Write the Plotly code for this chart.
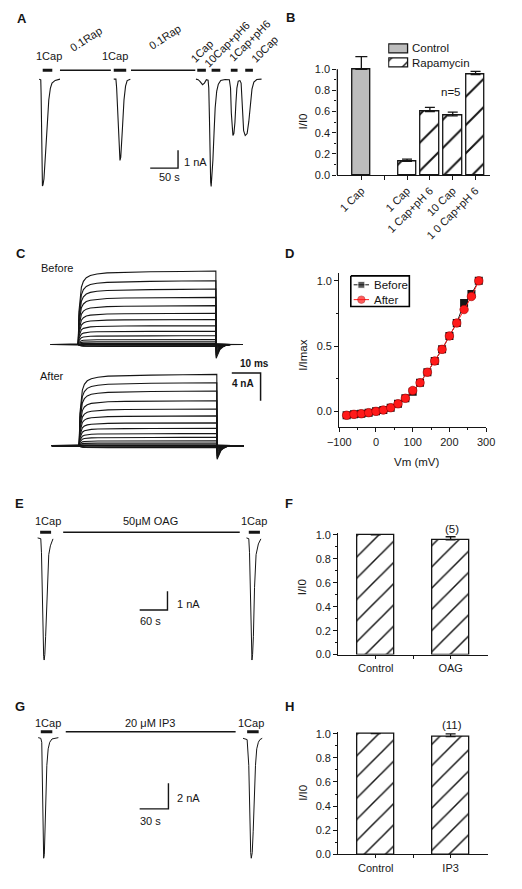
import plotly.graph_objects as go

W, H = 522, 889
FONT = "Liberation Sans, Arial, Helvetica, sans-serif"
INK = "#151515"

# ================= DATA =================
# ---- Panel A: capsaicin currents (time s, current nA) ----
A_seg1_t = [0.5, 3.4, 4.0, 4.7, 5.2, 5.7, 6.4, 7.4, 9.1, 12.1, 15.0, 17.8, 20.7, 23.6, 29.3, 37.9]
A_seg1_i = [0.0, -0.04, -0.78, -2.44, -4.11, -5.50, -6.00, -5.94, -5.61, -4.11, -2.28, -1.17, -0.50, -0.22, -0.07, 0.0]
A_seg2_t = [134.5, 138.4, 139.7, 141.4, 143.1, 144.3, 145.7, 147.1, 148.3, 150.0, 152.9, 155.7, 158.6, 164.3]
A_seg2_i = [0.0, 0.0, -0.50, -1.61, -3.28, -4.22, -4.57, -4.39, -3.94, -2.83, -1.17, -0.39, -0.08, 0.0]
A_seg3_t = [282.2, 286.2, 289.7, 294.0, 297.4, 300.9, 304.0, 305.2, 306.4, 307.4, 308.6, 309.5, 310.9,
            312.6, 314.7, 316.7, 319.5, 322.4, 326.7, 334.5, 342.2, 344.3, 345.7, 347.1, 348.6, 350.3,
            352.2, 354.0, 355.7, 358.1, 361.2, 363.3, 364.7, 366.0, 367.8, 370.7, 374.1, 377.1, 379.8,
            382.8, 386.2, 391.4, 400.0]
A_seg3_i = [0.0, -0.03, -0.14, -0.31, -0.22, -0.03, -0.06, -0.50, -2.17, -4.39, -5.78, -6.03, -5.50,
            -4.56, -3.00, -1.61, -0.67, -0.28, -0.07, -0.02, -0.03, -0.50, -1.89, -2.89, -3.17, -3.06,
            -2.44, -1.33, -0.50, -0.11, -0.08, -0.22, -1.06, -2.17, -2.89, -3.17, -3.06, -2.39, -1.33,
            -0.56, -0.17, -0.02, 0.0]
A_short_bars = [(6.9, 24.1), (134.5, 156.9), (284.5, 300.0), (310.3, 325.9), (344.8, 356.9), (370.7, 384.5)]
A_long_bars = [(37.9, 129.3), (165.5, 281.0)]
A_bar_level = 0.5
A_labels = ["1Cap", "0.1Rap", "1Cap", "0.1Rap", "1Cap", "10Cap+pH6", "1Cap+pH6", "10Cap"]
A_label_t = [19.0, 84.5, 136.2, 225.9, 293.1, 337.9, 377.6, 405.2]
A_label_i = [1.28, 2.28, 1.28, 2.39, 1.56, 2.00, 2.17, 1.72]
A_label_angle = [0, -33, 0, -33, -45, -45, -45, -45]

# ---- Panel B: I/I0 ----
B_tick_labels = ["1 Cap", "", "1 Cap", "1 Cap+pH 6", "10 Cap", "1 0 Cap+pH 6"]
B_ctrl_pos = [0]
B_ctrl_val = [1.0]
B_ctrl_err = [0.12]
B_rap_pos = [2, 3, 4, 5]
B_rap_val = [0.13, 0.60, 0.56, 0.95]
B_rap_err = [0.02, 0.04, 0.035, 0.03]
B_series = ["Control", "Rapamycin"]

# ---- Panel C: voltage-step current families (time ms, current nA) ----
C_shape_t = [-9.5, 0.0, 0.25, 0.6, 1.1, 1.8, 2.8, 4.2, 6.5, 10, 16, 25, 36, 47.8,
             47.9, 48.5, 49.2, 50.2, 51.4, 53.0, 57.2]
C_shape_f = [0, 0, 0.45, 0.64, 0.78, 0.86, 0.91, 0.94, 0.96, 0.975, 0.985, 0.99, 0.995, 1.0,
             -0.19, -0.13, -0.07, -0.035, -0.012, 0, 0]
C_before_amp = [10.6, 9.2, 8.0, 6.8, 5.6, 4.5, 3.6, 2.7, 1.9, 1.25, 0.7, 0.38, 0.14, 0.0, -0.1, -0.2, -0.25, -0.3]
C_after_amp = [10.3, 9.1, 7.9, 6.5, 5.3, 4.3, 3.3, 2.5, 1.75, 1.2, 0.7, 0.38, 0.14, 0.0, -0.1, -0.2, -0.25, -0.3]

# ---- Panel D: normalized I-V ----
D_vm = [-80, -60, -40, -20, 0, 20, 40, 60, 80, 100, 120, 140, 160, 180, 200, 220, 240, 260, 280]
D_before = [-0.03, -0.023, -0.018, -0.01, 0.0, 0.01, 0.028, 0.058, 0.10, 0.15, 0.22, 0.30, 0.386, 0.475,
            0.578, 0.677, 0.83, 0.90, 1.0]
D_after = [-0.03, -0.023, -0.018, -0.01, 0.0, 0.01, 0.028, 0.058, 0.10, 0.16, 0.22, 0.30, 0.386, 0.475,
           0.578, 0.677, 0.78, 0.88, 1.0]
D_series = ["Before", "After"]

# ---- Panel E: OAG (time s, current nA) ----
E_seg1_t = [-0.6, 6.2, 7.7, 8.9, 11.0, 12.4, 13.5, 14.9, 16.6, 20.1, 23.4, 26.9, 32.5]
E_seg1_i = [0.0, -0.04, -0.79, -2.63, -5.26, -6.32, -6.50, -6.21, -5.26, -2.63, -0.89, -0.42, -0.05]
E_seg2_t = [449.9, 454.9, 456.5, 458.2, 459.6, 460.9, 461.7, 463.1, 464.8, 467.3, 470.6, 475.6, 481.0]
E_seg2_i = [0.0, -0.04, -0.79, -2.63, -5.26, -6.32, -6.50, -6.21, -5.26, -2.63, -0.89, -0.32, -0.05]
E_short_bars = [(4.8, 28.4), (454.9, 478.9)]
E_long_bars = [(54.5, 435.4)]
E_bar_level = 0.3
E_labels = ["1Cap", "50\u03bcM OAG", "1Cap"]
E_label_t = [20.7, 241.9, 465.2]

# ---- Panel F ----
F_cats = ["Control", "OAG"]
F_vals = [1.0, 0.96]
F_err = [0.0, 0.025]
F_n = "(5)"

# ---- Panel G: IP3 (time s, current nA) ----
G_seg1_t = [0.0, 2.7, 3.7, 4.0, 4.4, 4.7, 5.0, 5.7, 6.4, 7.0, 8.0, 9.0, 10.4, 12.0, 14.4, 21.0]
G_seg1_i = [0.0, -0.05, -0.36, -2.15, -4.72, -7.28, -8.95, -9.38, -9.08, -7.28, -4.72, -2.15, -0.87, -0.36, -0.10, 0.0]
G_seg2_t = [213.4, 217.7, 219.4, 220.0, 220.7, 221.4, 222.0, 223.0, 224.0, 225.0, 226.4, 227.7, 229.4, 231.0, 233.4]
G_seg2_i = [-0.05, -0.15, -2.15, -4.72, -7.28, -8.95, -9.38, -8.95, -7.28, -4.72, -2.15, -0.87, -0.36, -0.15, -0.05]
G_short_bars = [(2.7, 14.7), (217.7, 229.7)]
G_long_bars = [(28.7, 205.7)]
G_bar_level = 0.46
G_labels = ["1Cap", "20 \u03bcM IP3", "1Cap"]
G_label_t = [9.7, 116.9, 221.5]

# ---- Panel H ----
H_cats = ["Control", "IP3"]
H_vals = [1.0, 0.975]
H_err = [0.0, 0.023]
H_n = "(11)"


# ================= HELPERS =================
def dom_x(a, b):
    return [a / W, b / W]


def dom_y(top, bot):
    return [1 - bot / H, 1 - top / H]


def join(segs):
    xs, ys = [], []
    for t, i in segs:
        xs += list(t) + [None]
        ys += list(i) + [None]
    return xs, ys


def bars_xy(bars, level):
    xs, ys = [], []
    for a, b in bars:
        xs += [a, b, None]
        ys += [level, level, None]
    return xs, ys


def paper_ann(text, x, y, size=11, bold=False, angle=0, xanchor="center"):
    return dict(text=f"<b>{text}</b>" if bold else text, x=x / W, y=1 - y / H, xref="paper", yref="paper",
                showarrow=False, textangle=angle, xanchor=xanchor, yanchor="middle",
                font=dict(family=FONT, size=size, color=INK))


def data_ann(text, x, y, ax, size=10.5, bold=False, angle=0):
    return dict(text=f"<b>{text}</b>" if bold else text, x=x, y=y, xref="x" + ax, yref="y" + ax,
                showarrow=False, textangle=angle, xanchor="center", yanchor="middle",
                font=dict(family=FONT, size=size, color=INK))


def cal_range(p0, p1, origin, per_px, invert=False):
    if invert:
        return [(origin - p1) * per_px, (origin - p0) * per_px]
    return [(p0 - origin) * per_px, (p1 - origin) * per_px]


fig = go.Figure()
annotations = []
shapes = []
layout = dict(width=W, height=H, margin=dict(l=0, r=0, t=0, b=0), paper_bgcolor="white",
              plot_bgcolor="rgba(0,0,0,0)", showlegend=False,
              font=dict(family=FONT, size=11, color=INK))

hidden = dict(visible=False, showgrid=False, zeroline=False, fixedrange=True)


def trace_panel(ax, px_x, py, x_origin, x_per_px, y_origin, y_per_px):
    xk = "xaxis" if ax == "" else "xaxis" + ax
    yk = "yaxis" if ax == "" else "yaxis" + ax
    layout[xk] = dict(hidden, domain=dom_x(*px_x), range=cal_range(px_x[0], px_x[1], x_origin, x_per_px),
                      anchor="y" + ax)
    layout[yk] = dict(hidden, domain=dom_y(*py), range=cal_range(py[0], py[1], y_origin, y_per_px, True),
                      anchor="x" + ax)


def line(x, y, ax, width=1.1, color=INK):
    fig.add_trace(go.Scatter(x=x, y=y, mode="lines", line=dict(color=color, width=width),
                             xaxis="x" + ax, yaxis="y" + ax, showlegend=False, hoverinfo="skip"))


LBL = 11

# ================= PANEL A =================
trace_panel("", (0, 264), (0, 205), 28, 1 / 0.58, 76, 1 / 18)
x, y = join([(A_seg1_t, A_seg1_i), (A_seg2_t, A_seg2_i), (A_seg3_t, A_seg3_i)])
line(x, y, "", 1.1)
x, y = bars_xy(A_short_bars, A_bar_level)
line(x, y, "", 3.2)
x, y = bars_xy(A_long_bars, A_bar_level)
line(x, y, "", 1.6)
line([200, 250, 250], [-5.0, -5.0, -4.0], "", 1.4)
for txt, t, i, ang in zip(A_labels, A_label_t, A_label_i, A_label_angle):
    annotations.append(data_ann(txt, t, i, "", LBL, angle=ang))
annotations.append(data_ann("1 nA", 281.9, -4.67, "", LBL))
annotations.append(data_ann("50 s", 235.3, -5.5, "", LBL))

# ================= PANEL C =================
trace_panel("3", (0, 264), (255, 362), 69, 1 / 3, 344.3, 1 / 7)
trace_panel("4", (0, 264), (358, 470), 70, 1 / 3, 446.7, 1 / 7)
for ax, amps in (("3", C_before_amp), ("4", C_after_amp)):
    xs, ys = [], []
    for a in amps:
        xs += C_shape_t + [None]
        ys += [a * f for f in C_shape_f] + [None]
    line(xs, ys, ax, 1.1)
line([53, 63, 63], [10.5, 10.5, 6.5], "4", 1.5)
annotations.append(paper_ann("10 ms", 253, 364, 10, bold=True))
annotations.append(paper_ann("4 nA", 241, 384, 10, bold=True))
annotations.append(paper_ann("Before", 47, 267, LBL))
annotations.append(paper_ann("After", 42, 376, LBL))

# ================= PANEL E =================
trace_panel("6", (0, 264), (510, 672), 27, 1 / 0.483, 540, 1 / 19)
x, y = join([(E_seg1_t, E_seg1_i), (E_seg2_t, E_seg2_i)])
line(x, y, "6", 1.0)
x, y = bars_xy(E_short_bars, E_bar_level)
line(x, y, "6", 3.0)
x, y = bars_xy(E_long_bars, E_bar_level)
line(x, y, "6", 1.5)
line([219.5, 279.5, 279.5], [-3.84, -3.84, -2.84], "6", 1.4)
for txt, t in zip(E_labels, E_label_t):
    annotations.append(data_ann(txt, t, 0.89, "6", LBL))
annotations.append(data_ann("1 nA", 324.6, -3.51, "6", LBL))
annotations.append(data_ann("60 s", 242.2, -4.44, "6", LBL))

# ================= PANEL G =================
trace_panel("8", (0, 264), (712, 878), 27.3, 1.0, 742, 1 / 13)
x, y = join([(G_seg1_t, G_seg1_i), (G_seg2_t, G_seg2_i)])
line(x, y, "8", 1.0)
x, y = bars_xy(G_short_bars, G_bar_level)
line(x, y, "8", 3.0)
x, y = bars_xy(G_long_bars, G_bar_level)
line(x, y, "8", 1.5)
line([105.7, 135.7, 135.7], [-5.54, -5.54, -3.54], "8", 1.4)
for txt, t in zip(G_labels, G_label_t):
    annotations.append(data_ann(txt, t, 1.15, "8", LBL))
annotations.append(data_ann("2 nA", 156.7, -4.69, "8", LBL))
annotations.append(data_ann("30 s", 116.7, -6.46, "8", LBL))

# ================= BAR PANELS =================
TICKFONT = dict(family=FONT, size=11, color="#1a1a1a")
axis_common = dict(showgrid=False, zeroline=False, fixedrange=True, linecolor=INK, linewidth=1.3,
                   ticks="outside", tickcolor=INK, tickwidth=1.2, ticklen=4, tickfont=TICKFONT)
yt_vals = [0, 0.2, 0.4, 0.6, 0.8, 1.0]
yt_text = ["0.0", "0.2", "0.4", "0.6", "0.8", "1.0"]
ym_vals = [0.1, 0.3, 0.5, 0.7, 0.9]
hatch = dict(shape="/", fgcolor=INK, bgcolor="white", solidity=0.1, fillmode="replace")
ctrl_marker = dict(color="#bdbdbd", line=dict(color=INK, width=1.3))

# ---- B ----
layout["xaxis2"] = dict(axis_common, domain=dom_x(339, 498), range=[-1.05, 5.63], anchor="y2", showline=True,
                        tickmode="array", tickvals=[0, 1, 2, 3, 4, 5], ticktext=B_tick_labels, tickangle=-45)
layout["yaxis2"] = dict(axis_common, domain=dom_y(52, 173), range=[0, 1.1308], anchor="x2", showline=False,
                        tickmode="array", tickvals=yt_vals, ticktext=yt_text,
                        minor=dict(tickvals=ym_vals, ticklen=2, ticks="outside", tickcolor=INK))
shapes.append(dict(type="line", xref="x2 domain", yref="y2", x0=0, x1=0, y0=0, y1=1.0,
                   line=dict(color=INK, width=1.3)))
fig.add_trace(go.Bar(x=B_ctrl_pos, y=B_ctrl_val, width=0.8, name=B_series[0], xaxis="x2", yaxis="y2",
                     marker=ctrl_marker,
                     error_y=dict(type="data", array=B_ctrl_err, arrayminus=[0], symmetric=False,
                                  color=INK, thickness=1.3, width=6)))
fig.add_trace(go.Bar(x=B_rap_pos, y=B_rap_val, width=0.8, name=B_series[1], xaxis="x2", yaxis="y2",
                     marker=dict(color="white", line=dict(color=INK, width=1.3), pattern=dict(hatch, size=20)),
                     error_y=dict(type="data", array=B_rap_err, arrayminus=[0] * 4, symmetric=False,
                                  color=INK, thickness=1.3, width=5)))
annotations.append(data_ann("n=5", 3.91, 0.785, "2", 11.5))
annotations.append(paper_ann("I/I0", 303, 119, 11.5, angle=-90))

# B legend (swatches drawn as small bars in their own hidden axis)
layout["xaxis10"] = dict(hidden, domain=dom_x(392, 414), range=[-0.05, 1.05], anchor="y10")
layout["yaxis10"] = dict(hidden, domain=dom_y(38, 67), range=[1.5, -0.5], anchor="x10")
fig.add_trace(go.Bar(orientation="h", x=[1], y=[0], base=0, width=0.62, xaxis="x10", yaxis="y10",
                     marker=ctrl_marker, showlegend=False, hoverinfo="skip"))
fig.add_trace(go.Bar(orientation="h", x=[1], y=[1], base=0, width=0.62, xaxis="x10", yaxis="y10",
                     marker=dict(color="white", line=dict(color=INK, width=1.3), pattern=dict(hatch, size=14)),
                     showlegend=False, hoverinfo="skip"))
annotations.append(paper_ann(B_series[0], 415, 45, 11.5, xanchor="left"))
annotations.append(paper_ann(B_series[1], 415, 60, 11.5, xanchor="left"))

# ---- D ----
layout["xaxis5"] = dict(axis_common, domain=dom_x(341, 494), range=[-100, 300], anchor="y5", showline=True,
                        tickmode="array", tickvals=[-100, 0, 100, 200, 300],
                        minor=dict(tickvals=[-50, 50, 150, 250], ticklen=2, ticks="outside", tickcolor=INK))
layout["yaxis5"] = dict(axis_common, domain=dom_y(272, 428), range=[-0.1212, 1.0606], anchor="x5", showline=True,
                        tickmode="array", tickvals=[0, 0.5, 1.0], ticktext=["0.0", "0.5", "1.0"],
                        minor=dict(tickvals=[0.25, 0.75], ticklen=2, ticks="outside", tickcolor=INK))
before_style = dict(line=dict(color=INK, width=1), marker_symbol="square", marker_color=INK)
after_style = dict(line=dict(color="#ff1a1a", width=1), marker_symbol="circle", marker_color="#ff1a1a",
                   marker_line=dict(color="#a00000", width=0.6))
fig.add_trace(go.Scatter(x=D_vm, y=D_before, mode="lines+markers", name=D_series[0], xaxis="x5", yaxis="y5",
                         marker_size=8, **before_style))
fig.add_trace(go.Scatter(x=D_vm, y=D_after, mode="lines+markers", name=D_series[1], xaxis="x5", yaxis="y5",
                         marker_size=8.5, **after_style))
annotations.append(paper_ann("I/Imax", 303, 355, 11.5, angle=-90))
annotations.append(paper_ann("Vm (mV)", 422, 463, 11.5))

# D legend: frame + sample symbols in a hidden axis (pixel-calibrated, y downward)
layout["xaxis11"] = dict(hidden, domain=dom_x(350, 417), range=[350, 417], anchor="y11")
layout["yaxis11"] = dict(hidden, domain=dom_y(272, 309), range=[309, 272], anchor="x11")
fig.add_trace(go.Scatter(x=[353, 414, 414, 353, 353], y=[275, 275, 306, 306, 275], mode="lines",
                         line=dict(color="#000000", width=1.6), xaxis="x11", yaxis="y11",
                         showlegend=False, hoverinfo="skip"))
fig.add_trace(go.Scatter(x=[356, 364, 372], y=[284, 284, 284], mode="lines+markers", xaxis="x11", yaxis="y11",
                         marker_size=[0, 7, 0], showlegend=False, hoverinfo="skip", **before_style))
fig.add_trace(go.Scatter(x=[356, 364, 372], y=[299, 299, 299], mode="lines+markers", xaxis="x11", yaxis="y11",
                         marker_size=[0, 7.5, 0], showlegend=False, hoverinfo="skip", **after_style))
annotations.append(paper_ann(D_series[0], 375, 284, 11.5, xanchor="left"))
annotations.append(paper_ann(D_series[1], 375, 299, 11.5, xanchor="left"))

# ---- F & H ----
for ax, top, bot, rng, cats, vals, errs, ntext, n_py, ytitle_y in (
        ("7", 535, 658, 1.0165, F_cats, F_vals, F_err, F_n, 531, 590),
        ("9", 736, 860, 1.0164, H_cats, H_vals, H_err, H_n, 729, 798)):
    layout["xaxis" + ax] = dict(axis_common, domain=dom_x(340, 496), range=[-0.5, 1.5], anchor="y" + ax,
                                showline=True, tickmode="array", tickvals=[0, 0.5, 1],
                                ticktext=[cats[0], "", cats[1]], ticklen=3)
    layout["yaxis" + ax] = dict(axis_common, domain=dom_y(top, bot), range=[0, rng], anchor="x" + ax,
                                showline=True, tickmode="array", tickvals=yt_vals, ticktext=yt_text,
                                minor=dict(tickvals=ym_vals, ticklen=2, ticks="outside", tickcolor=INK))
    fig.add_trace(go.Bar(x=[0, 1], y=vals, width=0.5, xaxis="x" + ax, yaxis="y" + ax, showlegend=False,
                         marker=dict(color="white", line=dict(color=INK, width=1.3), pattern=dict(hatch, size=15)),
                         error_y=dict(type="data", array=errs, arrayminus=[0, 0], symmetric=False,
                                      color=INK, thickness=1.3, width=5)))
    annotations.append(paper_ann(ntext, 458, n_py, 11.5))
    annotations.append(paper_ann("I/I0", 303, ytitle_y, 11.5, angle=-90))

# ================= PANEL LETTERS =================
for letter, px_, py_ in (("A", 10, 15), ("B", 290, 14), ("C", 9, 252), ("D", 289, 252),
                          ("E", 8, 505), ("F", 289, 505), ("G", 8, 710), ("H", 289, 710)):
    annotations.append(paper_ann(letter, px_, py_, 13, bold=True))

layout["annotations"] = annotations
layout["shapes"] = shapes
layout["bargap"] = 0
fig.update_layout(**layout)
fig.write_html("out.html")
